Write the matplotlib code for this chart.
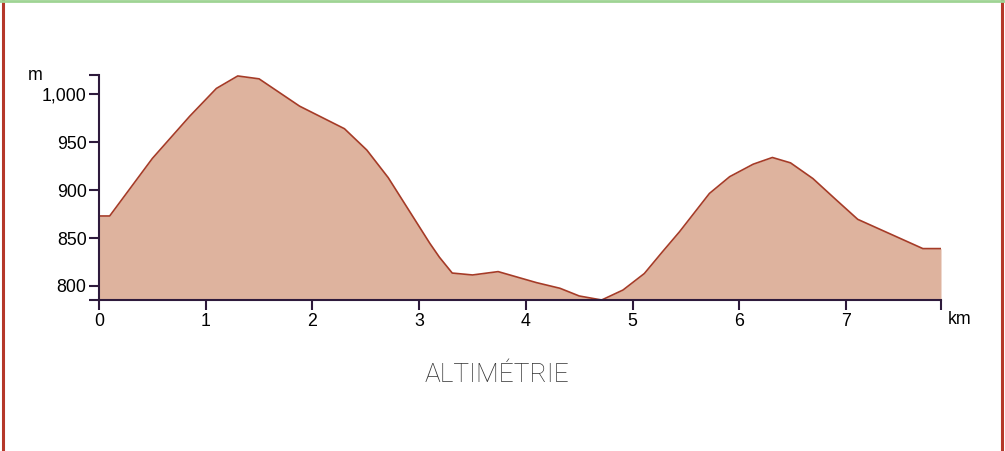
import matplotlib
matplotlib.use("Agg")
import matplotlib.pyplot as plt
from matplotlib.lines import Line2D

distance_km = [0, 0.1, 0.5, 0.85, 1.1, 1.3, 1.5, 1.88, 2.3, 2.51, 2.71, 3.1, 3.19,
               3.31, 3.5, 3.74, 4.1, 4.32, 4.5, 4.71, 4.91, 5.11, 5.28, 5.44, 5.72,
               5.91, 6.13, 6.31, 6.48, 6.69, 6.91, 7.11, 7.72, 7.89]
altitude_m = [873, 873, 933, 977, 1006, 1019, 1016, 987.5, 964, 941.7, 913, 844.5, 830,
              813.5, 811.5, 815, 803.5, 797.6, 789.6, 785.4, 795.8, 813, 835.7, 856.6, 896.5,
              914, 927, 934, 928.4, 912, 889.6, 869.5, 839, 839]
x_ticks = [0, 1, 2, 3, 4, 5, 6, 7]
y_ticks = [800, 850, 900, 950, 1000]
y_tick_labels = ["800", "850", "900", "950", "1,000"]

plt.rcParams['font.family'] = ['Liberation Sans', 'DejaVu Sans']
W, H = 1005, 451
fig = plt.figure(figsize=(W / 100, H / 100), dpi=100)

x0, x1 = 0, 7.89
y0, y1 = 785.4, 1020
ax = fig.add_axes([99 / W, (H - 300) / H, (941 - 99) / W, (300 - 75) / H])
ax.fill_between(distance_km, altitude_m, y0, color="#deb39e", linewidth=0)
ax.plot(distance_km, altitude_m, color="#a53b27", linewidth=1.2)
ax.set_xlim(x0, x1)
ax.set_ylim(y0, y1)

axis_color = "#2e1a3c"
for s in ["top", "right"]:
    ax.spines[s].set_visible(False)
for s in ["left", "bottom"]:
    ax.spines[s].set_color(axis_color)
    ax.spines[s].set_linewidth(1.5)

ax.set_xticks(x_ticks)
ax.set_xticklabels([str(t) for t in x_ticks])
ax.set_yticks(y_ticks)
ax.set_yticklabels(y_tick_labels)
ax.set_xticks([x0, x1], minor=True)
ax.set_yticks([y0, y1], minor=True)
ax.tick_params(which="both", colors=axis_color, labelcolor="black", width=1.5,
               length=7, labelsize=12.8, pad=2)
ax.tick_params(which="minor", length=7)

fig.text(35 / W, 1 - 76 / H, "m", fontsize=12.8, ha="center", va="center")
fig.text(960 / W, 1 - 320 / H, "km", fontsize=12.8, ha="center", va="center")
fig.text(497 / W, 1 - 375 / H, "ALTIMÉTRIE", fontsize=19, ha="center", va="center",
         color="#333333", family=["Roboto", "DejaVu Sans"], fontweight="light")

# frame decorations
fig.add_artist(Line2D([2.5 / W, 2.5 / W], [0, 1], color="#b5382a", linewidth=2.2,
                      transform=fig.transFigure))
fig.add_artist(Line2D([1002 / W, 1002 / W], [0, 1], color="#b5382a", linewidth=2.2,
                      transform=fig.transFigure))
fig.add_artist(Line2D([0, 1], [1 - 0.8 / H, 1 - 0.8 / H], color="#9fd494", linewidth=2,
                      transform=fig.transFigure))

fig.savefig("out.png", dpi=100)
